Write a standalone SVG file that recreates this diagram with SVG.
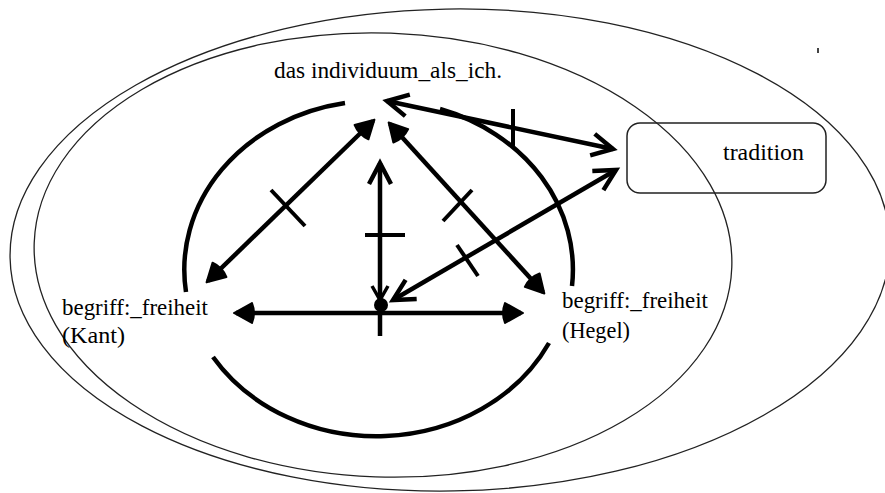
<svg xmlns="http://www.w3.org/2000/svg" width="885" height="493" viewBox="0 0 885 493">
  <style>
    .frame { fill: none; stroke: #222; stroke-width: 1.3; }
    .thick { fill: none; stroke: #000; stroke-width: 4.5; stroke-linecap: butt; }
    .tick { fill: none; stroke: #000; stroke-width: 4; }
    .lbl { font-family: "Liberation Serif", "Times New Roman", Tinos, "DejaVu Serif", serif; font-size: 23px; fill: #000; }
  </style>
  <defs>
    <marker id="open" markerUnits="userSpaceOnUse" orient="auto-start-reverse" refX="0" refY="0" markerWidth="40" markerHeight="40" overflow="visible">
      <path d="M -21 -11 L 0 0 L -21 11" fill="none" stroke="#000" stroke-width="4.5" stroke-linejoin="miter"/>
    </marker>
    <marker id="solid" markerUnits="userSpaceOnUse" orient="auto-start-reverse" refX="0" refY="0" markerWidth="40" markerHeight="40" overflow="visible">
      <path d="M 2 0 L -16 -10 Q -20 0 -16 10 Z" fill="#000" stroke="#000" stroke-width="2" stroke-linejoin="round"/>
    </marker>
  </defs>

  <rect width="885" height="493" fill="#fff"/>

  <!-- outer enclosing ellipses -->
  <g id="outer-frames">
    <ellipse class="frame" cx="450" cy="250" rx="440" ry="241" transform="rotate(-1 450 250)"/>
    <ellipse class="frame" cx="383" cy="255" rx="349" ry="222" transform="rotate(2 383 255)"/>
    <line x1="818" y1="48" x2="818" y2="53" stroke="#444" stroke-width="2"/>
  </g>

  <!-- broken circle around the triangle -->
  <g id="ring">
    <path class="thick" d="M 186 292 A 193 169 0 0 1 345 103"/>
    <path class="thick" d="M 440 109 A 193 169 0 0 1 572 286"/>
    <path class="thick" d="M 213 357 A 193 169 0 0 0 549 343"/>
  </g>

  <!-- connectors -->
  <g id="connectors">
    <line class="thick" x1="387" y1="101" x2="613" y2="149" marker-start="url(#open)" marker-end="url(#open)"/>
    <line class="thick" x1="373" y1="121" x2="208" y2="281" marker-start="url(#solid)" marker-end="url(#solid)"/>
    <line class="thick" x1="390" y1="124" x2="543" y2="292" marker-start="url(#solid)" marker-end="url(#solid)"/>
    <line class="thick" x1="380" y1="163" x2="380" y2="300" marker-start="url(#open)"/>
    <path d="M 372 286 L 380 300 L 388 286" fill="none" stroke="#000" stroke-width="3.5"/>
    <circle cx="381" cy="305" r="7" fill="#000"/>
    <line class="thick" x1="380" y1="305" x2="380" y2="336"/>
    <line class="thick" x1="236" y1="313" x2="521" y2="313" marker-start="url(#solid)" marker-end="url(#solid)"/>
    <line class="thick" x1="616" y1="170" x2="393" y2="300" marker-start="url(#open)" marker-end="url(#open)"/>

    <!-- cross marks on the links -->
    <line class="tick" x1="513" y1="109" x2="513" y2="148"/>
    <line class="tick" x1="271" y1="190" x2="305" y2="226"/>
    <line class="tick" x1="443" y1="221" x2="472" y2="190"/>
    <line class="tick" x1="365" y1="235" x2="405" y2="235"/>
    <line class="tick" x1="457" y1="245" x2="478" y2="276"/>
  </g>

  <g id="node-individuum">
    <text class="lbl" x="274" y="78" textLength="228" lengthAdjust="spacingAndGlyphs">das individuum_als_ich.</text>
  </g>

  <g id="node-kant">
    <text class="lbl" x="62" y="315" textLength="146" lengthAdjust="spacingAndGlyphs">begriff:_freiheit</text>
    <text class="lbl" x="62" y="343" textLength="63" lengthAdjust="spacingAndGlyphs">(Kant)</text>
  </g>

  <g id="node-hegel">
    <text class="lbl" x="562" y="308" textLength="146" lengthAdjust="spacingAndGlyphs">begriff:_freiheit</text>
    <text class="lbl" x="562" y="338" textLength="68" lengthAdjust="spacingAndGlyphs">(Hegel)</text>
  </g>

  <g id="node-tradition">
    <rect x="627" y="123" width="199" height="70" rx="13" ry="13" fill="none" stroke="#222" stroke-width="1.5"/>
    <text class="lbl" x="723" y="160" textLength="81" lengthAdjust="spacingAndGlyphs">tradition</text>
  </g>
</svg>
